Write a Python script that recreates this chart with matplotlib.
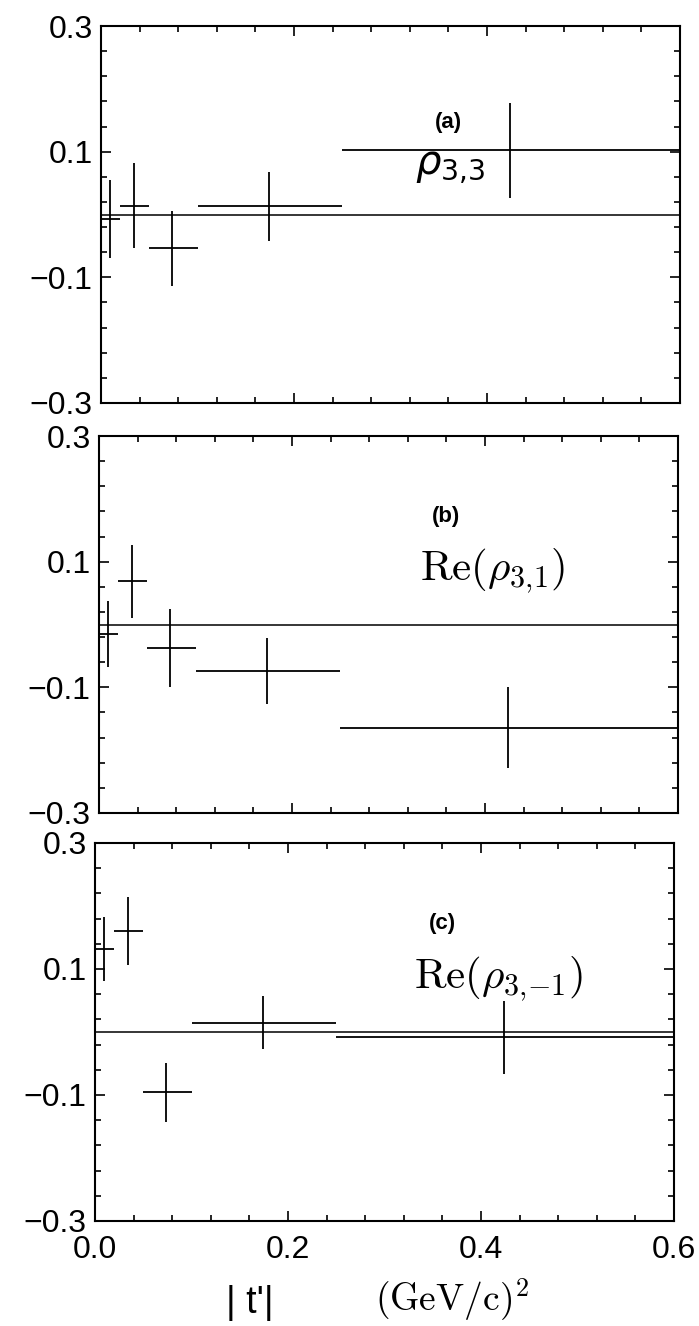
import numpy as np
import matplotlib
matplotlib.use("Agg")
from matplotlib import pyplot as plt
from matplotlib.ticker import FixedLocator

# |t'| bins (GeV/c)^2 and point positions
bin_lo = [0.0, 0.02, 0.05, 0.10, 0.25]
bin_hi = [0.02, 0.05, 0.10, 0.25, 0.60]
t_mean = [0.009, 0.034, 0.074, 0.174, 0.424]

# density matrix elements
rho33 = [-0.007, 0.014, -0.054, 0.013, 0.102]
rho33_err = [0.062, 0.068, 0.059, 0.055, 0.076]

re_rho31 = [-0.015, 0.069, -0.038, -0.074, -0.164]
re_rho31_err = [0.053, 0.058, 0.062, 0.053, 0.065]

re_rho3m1 = [0.132, 0.160, -0.096, 0.015, -0.008]
re_rho3m1_err = [0.051, 0.054, 0.047, 0.042, 0.058]

panel_tags = ['(a)', '(b)', '(c)']
tag_y = [0.147, 0.172, 0.172]
panel_names = [r'$\rho_{3{,}3}$', r'$\mathrm{Re}(\rho_{3{,}1})$', r'$\mathrm{Re}(\rho_{3{,}{-1}})$']
y_ticks = [-0.3, -0.1, 0.1, 0.3]
x_ticks = [0.0, 0.2, 0.4, 0.6]

W, H = 699, 1326
fig = plt.figure(figsize=(W / 100, H / 100), dpi=100)
plt.rcParams['font.family'] = ['Liberation Sans', 'DejaVu Sans']

# axes boxes in pixels: (left, top, right, bottom)
boxes = [(101, 26, 680, 403), (99, 436, 678, 813), (95, 843, 674, 1221)]
series = [(rho33, rho33_err), (re_rho31, re_rho31_err), (re_rho3m1, re_rho3m1_err)]

x = np.array(t_mean)
xerr = [x - np.array(bin_lo), np.array(bin_hi) - x]

axes = []
for i, (l, t, r, b) in enumerate(boxes):
    ax = fig.add_axes([l / W, 1 - b / H, (r - l) / W, (b - t) / H])
    axes.append(ax)
    y, e = series[i]
    ax.axhline(0, color='black', lw=1.1, zorder=1)
    ax.errorbar(x, y, xerr=xerr, yerr=e, fmt='none', ecolor='black',
                elinewidth=1.3, capsize=0, zorder=2)
    ax.set_xlim(0, 0.6)
    ax.set_ylim(-0.3, 0.3)
    ax.set_yticks(y_ticks)
    ax.set_yticklabels(['\u22120.3', '\u22120.1', '0.1', '0.3'])
    ax.yaxis.set_minor_locator(FixedLocator(np.linspace(-0.3, 0.3, 16)))
    ax.set_xticks(x_ticks)
    ax.xaxis.set_minor_locator(FixedLocator(np.linspace(0, 0.6, 16)))
    ax.tick_params(which='both', direction='in', top=True, right=True, width=1.2)
    ax.tick_params(which='major', length=7, labelsize=23, pad=6)
    ax.tick_params(which='minor', length=4)
    for s in ax.spines.values():
        s.set_linewidth(1.5)
    if i < 2:
        ax.set_xticklabels([])
    else:
        ax.set_xticklabels(['0.0', '0.2', '0.4', '0.6'])
        ax.tick_params(axis='x', which='major', pad=10)
    ax.text(0.36, tag_y[i], panel_tags[i], fontsize=16, fontweight='bold', ha='center', va='center')

axes[0].text(0.362, 0.075, panel_names[0], fontsize=29, ha='center', va='center',
             math_fontfamily='dejavusans')
axes[1].text(0.408, 0.085, panel_names[1], fontsize=31, ha='center', va='center',
             math_fontfamily='cm')
axes[2].text(0.418, 0.085, panel_names[2], fontsize=31, ha='center', va='center',
             math_fontfamily='cm')

fig.text(250 / W, 1 - 1303 / H, "| t'|", fontsize=27, ha='center', va='center')
fig.text(452 / W, 1 - 1300 / H, r'$(\mathrm{GeV}/\mathrm{c})^2$', fontsize=27, ha='center', va='center',
         math_fontfamily='cm')

fig.savefig('out.png', dpi=100)
